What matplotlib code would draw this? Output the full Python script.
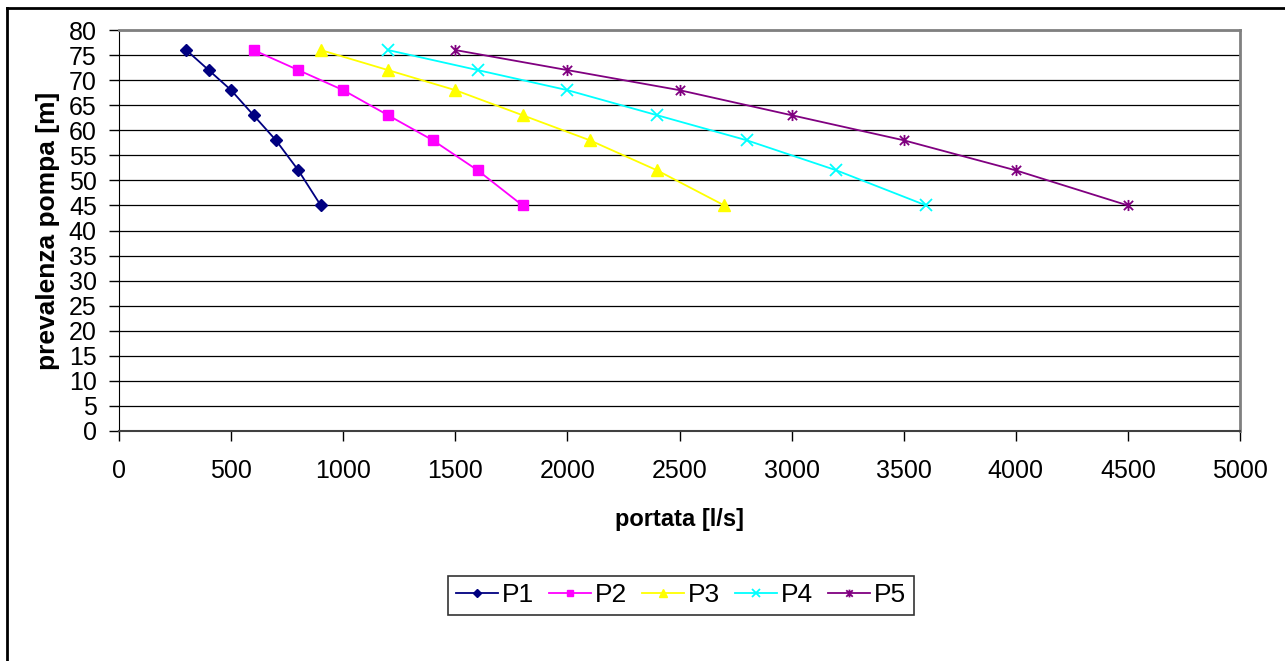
import matplotlib
matplotlib.use("Agg")
import matplotlib.pyplot as plt
from matplotlib.path import Path
from matplotlib.lines import Line2D

plt.rcParams['font.family'] = ['Liberation Sans', 'DejaVu Sans']

# Head values shared by all pumps (m)
prevalenza = [76, 72, 68, 63, 58, 52, 45]

# Flow rates for each pump (l/s)
p1 = [300, 400, 500, 600, 700, 800, 900]
p2 = [600, 800, 1000, 1200, 1400, 1600, 1800]
p3 = [900, 1200, 1500, 1800, 2100, 2400, 2700]
p4 = [1200, 1600, 2000, 2400, 2800, 3200, 3600]
p5 = [1500, 2000, 2500, 3000, 3500, 4000, 4500]

nomi = ["P1", "P2", "P3", "P4", "P5"]
colori = ["#000080", "#FF00FF", "#FFFF00", "#00FFFF", "#800080"]

# Asterisk marker: diagonal cross plus vertical stroke
asterisco = Path(
    [(-1, -1), (1, 1), (-1, 1), (1, -1), (0, -1.2), (0, 1.2)],
    [Path.MOVETO, Path.LINETO, Path.MOVETO, Path.LINETO, Path.MOVETO, Path.LINETO],
)

stili = [
    dict(marker="D", markersize=6),
    dict(marker="s", markersize=7),
    dict(marker="^", markersize=8),
    dict(marker="x", markersize=8, markeredgewidth=1.3),
    dict(marker=asterisco, markersize=8, markeredgewidth=1.3),
]

fig = plt.figure(figsize=(12.85, 6.61), dpi=100)
ax = fig.add_axes([119 / 1285, 1 - 431 / 661, (1240 - 119) / 1285, (431 - 30) / 661])

for nome, xs, col, st in zip(nomi, [p1, p2, p3, p4, p5], colori, stili):
    ax.plot(xs, prevalenza, color=col, lw=1.3, label=nome,
            markerfacecolor=col, markeredgecolor=col, **st)

ax.set_xlim(0, 5000)
ax.set_ylim(0, 80)
ax.set_xticks(range(0, 5001, 500))
ax.set_yticks(range(0, 81, 5))
ax.yaxis.grid(True, color="black", lw=0.9)
ax.set_axisbelow(True)
ax.tick_params(labelsize=18, length=7, width=1, color="black")
ax.tick_params(axis="x", pad=13)
ax.tick_params(axis="y", pad=9)

for s in ["top", "right"]:
    ax.spines[s].set_color("#808080")
    ax.spines[s].set_linewidth(2)
ax.spines["left"].set_color("black")
ax.spines["bottom"].set_color("#404040")
ax.spines["bottom"].set_linewidth(1.5)

ax.set_xlabel("portata [l/s]", fontsize=17, fontweight="bold", labelpad=18)
ax.set_ylabel("prevalenza pompa [m]", fontsize=19, fontweight="bold", labelpad=6)

leg = fig.legend(loc="center", bbox_to_anchor=(681 / 1285, 1 - 595.5 / 661), ncol=5,
                 fontsize=19, frameon=True, fancybox=False, edgecolor="black",
                 handlelength=1.6, handletextpad=0.15, columnspacing=0.55,
                 borderpad=0.3, borderaxespad=0, markerscale=0.7)
leg.get_frame().set_linewidth(1.2)

# Outer chart border (left and top edges)
fig.add_artist(Line2D([6.5 / 1285, 6.5 / 1285], [0, 1 - 8 / 661], color="black", lw=2,
                      transform=fig.transFigure))
fig.add_artist(Line2D([6.5 / 1285, 1], [1 - 8 / 661, 1 - 8 / 661], color="black", lw=2,
                      transform=fig.transFigure))

fig.savefig("out.png", dpi=100)
